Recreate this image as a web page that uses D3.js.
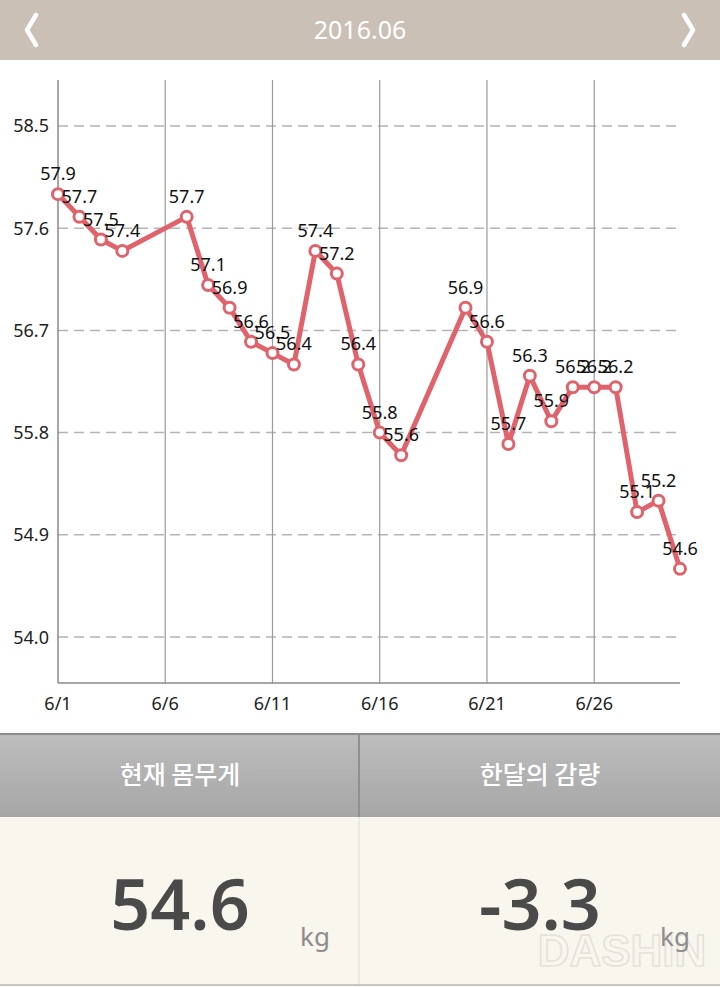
<!DOCTYPE html>
<html><head><meta charset="utf-8">
<script src="https://cdn.jsdelivr.net/npm/d3@7"></script>
<style>
html,body{margin:0;padding:0;background:#fff;}
svg{display:block;}
</style></head>
<body>
<svg id="c" width="720" height="987"></svg>
<script>
const title = "2016.06";
const days = [1,2,3,4,7,8,9,10,11,12,13,14,15,16,17,20,21,22,23,24,25,26,27,28,29,30];
const weights = [57.9,57.7,57.5,57.4,57.7,57.1,56.9,56.6,56.5,56.4,57.4,57.2,56.4,55.8,55.6,56.9,56.6,55.7,56.3,55.9,56.2,56.2,56.2,55.1,55.2,54.6];
const yTicks = [54.0,54.9,55.8,56.7,57.6,58.5];
const xTicks = [1,6,11,16,21,26];
const xTickLabels = ["6/1","6/6","6/11","6/16","6/21","6/26"];
const panelTitles = ["현재 몸무게","한달의 감량"];
const panelValues = ["54.6","-3.3"];
const panelUnit = "kg";

const svg = d3.select("#c");
const defs = svg.append("defs");
const g1 = defs.append("linearGradient").attr("id","ph").attr("x1",0).attr("y1",0).attr("x2",0).attr("y2",1);
g1.append("stop").attr("offset","0%").attr("stop-color","#bdbdbd");
g1.append("stop").attr("offset","100%").attr("stop-color","#a6a6a6");

// header
svg.append("rect").attr("x",0).attr("y",0).attr("width",720).attr("height",60).attr("fill","#cac0b6");
svg.append("text").attr("x",360).attr("y",39).attr("text-anchor","middle")
  .attr("font-family","Noto Sans, sans-serif").attr("font-size",25).attr("fill","#fff").text(title);
svg.append("path").attr("d","M36,15 L27,30 L36,45").attr("fill","none").attr("stroke","#fff").attr("stroke-width",4.5).attr("stroke-linecap","round").attr("stroke-linejoin","round");
svg.append("path").attr("d","M684,15 L693,30 L684,45").attr("fill","none").attr("stroke","#fff").attr("stroke-width",4.5).attr("stroke-linecap","round").attr("stroke-linejoin","round");

// chart
const x = d3.scaleLinear().domain([1,30]).range([58,680]);
const y = d3.scaleLinear().domain([53.595,58.905]).range([683,80]);

const grid = svg.append("g");
grid.selectAll("line.h").data(yTicks).join("line")
  .attr("x1",58).attr("x2",680).attr("y1",d=>y(d)).attr("y2",d=>y(d))
  .attr("stroke","#b5b5b5").attr("stroke-width",1.5).attr("stroke-dasharray","10,6");
grid.selectAll("line.v").data(xTicks.slice(1)).join("line")
  .attr("x1",d=>x(d)).attr("x2",d=>x(d)).attr("y1",80).attr("y2",683)
  .attr("stroke","#9a9a9a").attr("stroke-width",1.2);
svg.append("line").attr("x1",58).attr("x2",58).attr("y1",80).attr("y2",683).attr("stroke","#8a8a8a").attr("stroke-width",1.5);
svg.append("line").attr("x1",58).attr("x2",680).attr("y1",683).attr("y2",683).attr("stroke","#8a8a8a").attr("stroke-width",1.5);

svg.append("g").selectAll("text").data(yTicks).join("text")
  .attr("x",49).attr("y",d=>y(d)+6.5).attr("text-anchor","end")
  .attr("font-family","Noto Sans, sans-serif").attr("font-size",18).attr("fill","#222")
  .text(d=>d.toFixed(1));
svg.append("g").selectAll("text").data(xTicks).join("text")
  .attr("x",d=>x(d)).attr("y",710).attr("text-anchor","middle")
  .attr("font-family","Noto Sans, sans-serif").attr("font-size",18).attr("fill","#222")
  .text((d,i)=>xTickLabels[i]);

const pts = days.map((d,i)=>({d, w:weights[i]}));
const line = d3.line().x(p=>x(p.d)).y(p=>y(p.w));
svg.append("path").datum(pts).attr("d",line).attr("fill","none")
  .attr("stroke","#e0636b").attr("stroke-width",5).attr("stroke-linejoin","round");
svg.append("g").selectAll("circle").data(pts).join("circle")
  .attr("cx",p=>x(p.d)).attr("cy",p=>y(p.w)).attr("r",5.5)
  .attr("fill","#fff").attr("stroke","#e0636b").attr("stroke-width",3);
svg.append("g").selectAll("text").data(pts).join("text")
  .attr("x",p=>x(p.d)).attr("y",p=>y(p.w)-14).attr("text-anchor","middle")
  .attr("font-family","Noto Sans, sans-serif").attr("font-size",18).attr("fill","#111")
  .text(p=>p.w.toFixed(1));

// bottom panels
svg.append("rect").attr("x",0).attr("y",733).attr("width",720).attr("height",84).attr("fill","url(#ph)");
svg.append("line").attr("x1",0).attr("x2",720).attr("y1",734).attr("y2",734).attr("stroke","#8c8c8c").attr("stroke-width",2);
svg.append("rect").attr("x",0).attr("y",817).attr("width",720).attr("height",170).attr("fill","#f9f6ee");
svg.append("line").attr("x1",359).attr("x2",359).attr("y1",735).attr("y2",817).attr("stroke","#8f8f8f").attr("stroke-width",2);
svg.append("line").attr("x1",359).attr("x2",359).attr("y1",817).attr("y2",987).attr("stroke","#dcdcdc").attr("stroke-width",1);
svg.append("line").attr("x1",0).attr("x2",720).attr("y1",985).attr("y2",985).attr("stroke","#c8c8c8").attr("stroke-width",2);

// faint watermark
svg.append("text").attr("x",622).attr("y",966).attr("text-anchor","middle")
  .attr("font-family","Liberation Sans Narrow, sans-serif").attr("font-size",44).attr("font-weight",700)
  .attr("fill","none").attr("stroke","#e4e1da").attr("stroke-width",1.5).text("DASHIN");

[180,540].forEach((cx,i)=>{
  svg.append("text").attr("x",cx).attr("y",784).attr("text-anchor","middle")
    .attr("font-family","Noto Sans CJK KR, sans-serif").attr("font-size",25).attr("font-weight",500).attr("fill","#fff")
    .text(panelTitles[i]);
  svg.append("text").attr("x",cx).attr("y",930).attr("text-anchor","middle")
    .attr("font-family","Noto Sans, sans-serif").attr("font-size",70).attr("font-weight",600).attr("fill","#4a4a4a")
    .text(panelValues[i]);
  svg.append("text").attr("x",cx+135).attr("y",946).attr("text-anchor","middle")
    .attr("font-family","Noto Sans, sans-serif").attr("font-size",26).attr("fill","#8d8d8d")
    .text(panelUnit);
});
</script>
</body></html>
